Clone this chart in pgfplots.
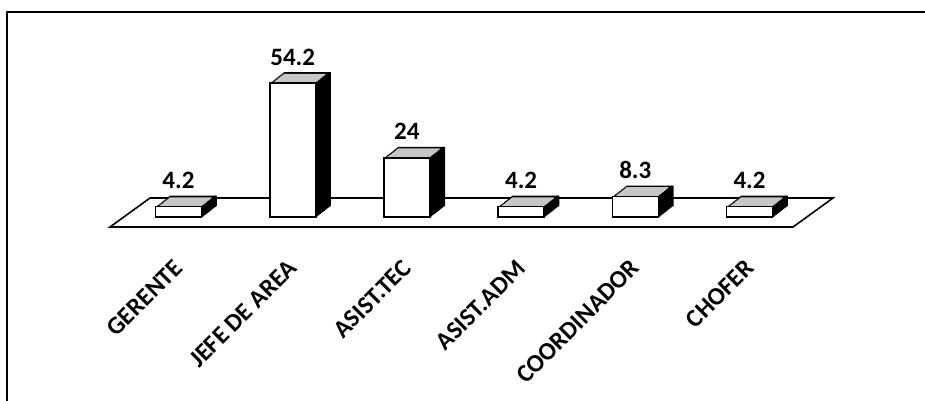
\documentclass[border=0pt]{standalone}
\usepackage{pgfplots}
\pgfplotsset{compat=1.18}
\usepackage{pgfplotstable}
\usepackage{fontspec}
\setmainfont{Carlito}
\pgfplotstableread{
x y label
0 4.2 4.2
1 54.2 54.2
2 24 24
3 4.2 4.2
4 8.3 8.3
5 4.2 4.2
}\datatable
\begin{document}
\begin{tikzpicture}
\useasboundingbox (0pt,0pt) rectangle (925pt,401pt);
% frame (scanned border: top and left edges)
\draw[line width=1.6pt] (7pt,0pt) -- (7pt,389pt) -- (925pt,389pt);
% floor
\draw[line width=1.6pt, fill=white] (110pt,174pt) -- (793pt,174pt) -- (833pt,203pt) -- (150pt,203pt) -- cycle;
\begin{axis}[
  at={(64.3pt,137pt)}, anchor=south west,
  scale only axis, width=799.4pt, height=195.13pt,
  xmin=-1, xmax=6, ymin=-19, ymax=60,
  clip=false,
  axis line style={draw=none},
  tick style={draw=none},
  ytick=\empty,
  xtick={0,...,5},
  xticklabels={GERENTE, JEFE DE AREA, ASIST.TEC, ASIST.ADM, COORDINADOR, CHOFER},
  xticklabel style={rotate=45, anchor=east, inner sep=0pt, font=\fontsize{25}{29}\selectfont\bfseries},
]
% depth (black extrusion)
\pgfplotsinvokeforeach{1,...,14}{
  \addplot[ybar, bar width=46pt, bar shift=0pt, fill=black, draw=none, xshift=#1pt, yshift={#1*0.786pt}] table[x=x,y=y] {\datatable};
}
% top face interior (grey)
\pgfplotsinvokeforeach{2,...,12}{
  \addplot[ybar, bar width=42pt, bar shift=0pt, fill=gray!45, draw=none, xshift=#1pt, yshift={#1*0.786pt}] table[x=x,y=y] {\datatable};
}
% side face (black)
\pgfplotsinvokeforeach{0,...,14}{
  \addplot[ybar, bar width=2.5pt, bar shift=23pt, fill=black, draw=none, xshift=#1pt, yshift={#1*0.786pt}] table[x=x,y=y] {\datatable};
}
% front face
\addplot[ybar, bar width=46pt, bar shift=0pt, fill=white, draw=black, line width=1.6pt,
  nodes near coords, point meta=explicit symbolic,
  nodes near coords style={anchor=south, inner sep=0pt, yshift=17pt, font=\fontsize{25}{30}\selectfont\bfseries}]
  table[x=x, y=y, meta=label] {\datatable};
\end{axis}
\end{tikzpicture}
\end{document}
